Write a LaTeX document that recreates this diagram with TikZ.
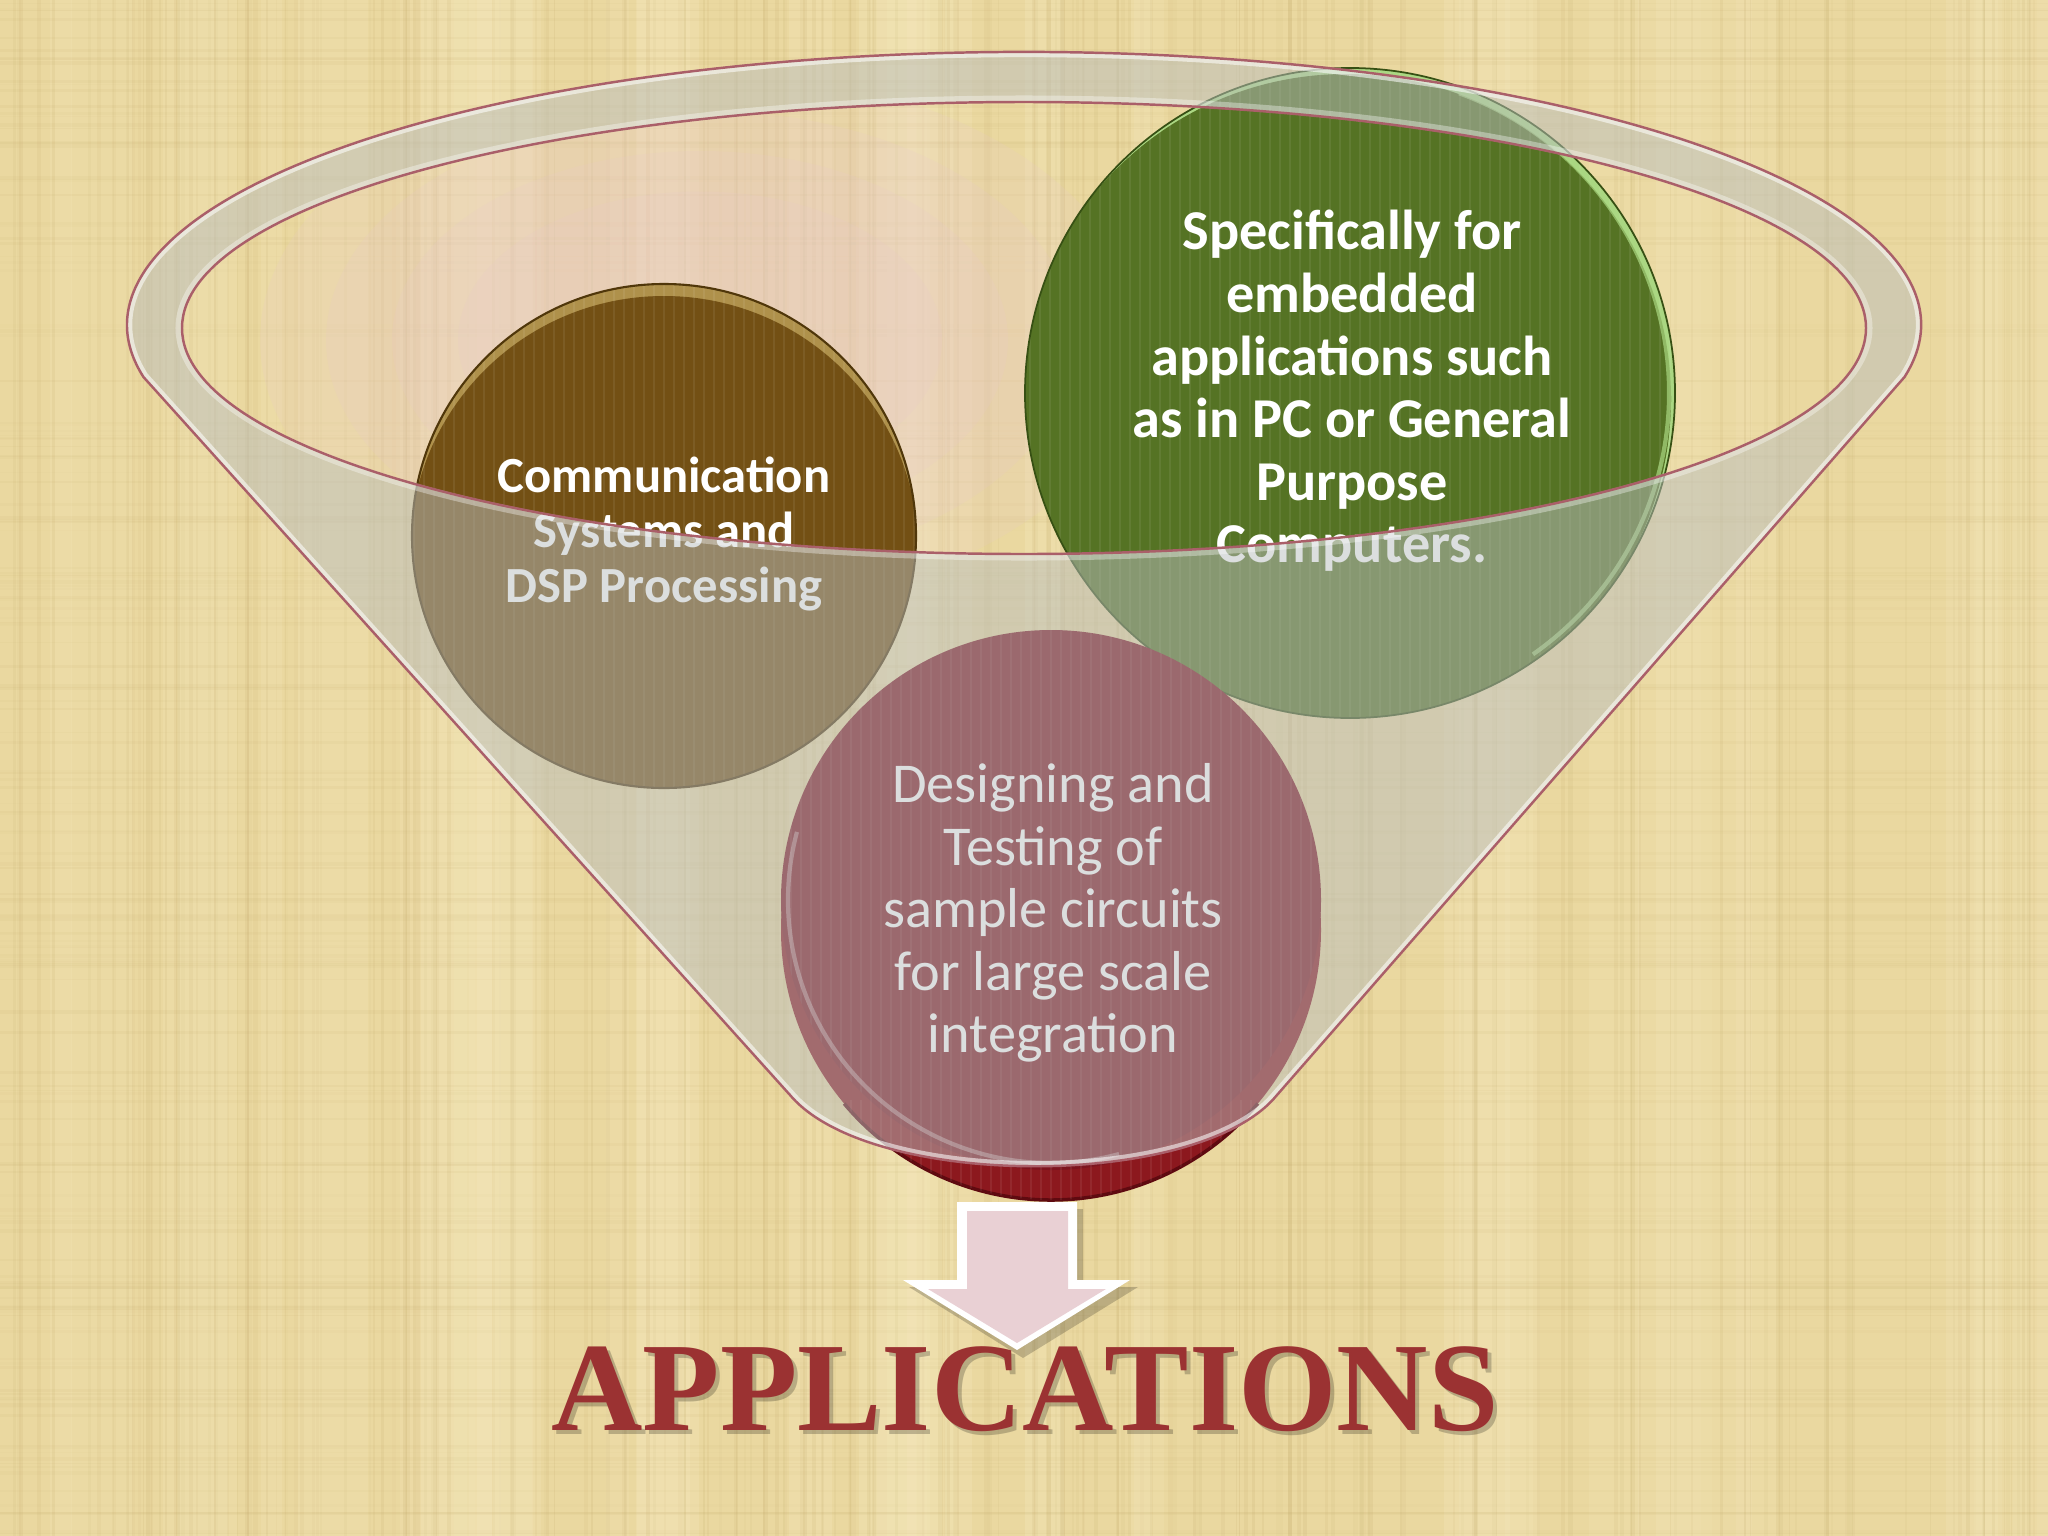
\documentclass[tikz,border=0pt]{standalone}
\usepackage{fontspec}
\newfontfamily\carl{Carlito}
\newfontfamily\tnr{Liberation Serif}
\usetikzlibrary{calc}
\definecolor{bg}{RGB}{234,216,160}
\definecolor{texdark}{RGB}{190,165,100}
\definecolor{texlight}{RGB}{248,236,196}
\definecolor{pinkb}{RGB}{232,200,205}
\definecolor{brbase}{RGB}{115,80,20}
\definecolor{brhi}{RGB}{175,145,75}
\definecolor{brdark}{RGB}{80,55,10}
\definecolor{grbase}{RGB}{85,115,36}
\definecolor{grhi}{RGB}{170,215,130}
\definecolor{grdark}{RGB}{55,80,20}
\definecolor{rdbase}{RGB}{125,20,30}
\definecolor{rdrim}{RGB}{140,24,30}
\definecolor{rddark}{RGB}{95,10,16}
\definecolor{ovl}{RGB}{185,190,190}
\definecolor{fline}{RGB}{170,95,105}
\definecolor{arrpink}{RGB}{233,208,212}
\definecolor{appred}{RGB}{155,50,50}
\tikzset{
  bodytext/.style={text=white, align=center, inner sep=0pt},
  stripe/.style={white, opacity=0.07, line width=0.8pt},
}
\begin{document}
\begin{tikzpicture}[x=0.01cm,y=-0.01cm]
\useasboundingbox (0,0) rectangle (2048,1536);
% background
\fill[bg] (0,0) rectangle (2048,1536);
\pgfmathsetseed{42}
\foreach \i in {1,...,40}{
  \pgfmathsetmacro\xx{rnd*2048}
  \pgfmathsetmacro\ww{20+rnd*60}
  \pgfmathsetmacro\op{0.10+0.15*rnd}
  \fill[texlight,opacity=\op] (\xx,0) rectangle ++(\ww,1536);
}
\foreach \i in {1,...,220}{
  \pgfmathsetmacro\xx{rnd*2048}
  \pgfmathsetmacro\op{0.04+0.11*rnd}
  \pgfmathsetmacro\lw{0.3+1.0*rnd}
  \draw[texdark,opacity=\op,line width=\lw pt] (\xx,0) -- (\xx,1536);
}
\foreach \i in {1,...,160}{
  \pgfmathsetmacro\yy{rnd*1536}
  \pgfmathsetmacro\op{0.02+0.07*rnd}
  \pgfmathsetmacro\lw{0.3+0.8*rnd}
  \draw[texdark,opacity=\op,line width=\lw pt] (0,\yy) -- (2048,\yy);
}
% pink glow inside the opening
\begin{scope}
  \clip (1024,328) ellipse[x radius=842, y radius=226];
  \foreach \k in {1.0,0.85,0.7,0.55}{
    \fill[pinkb,opacity=0.16] (700,340) ellipse[x radius={\k*440}, y radius={\k*270}];
  }
\end{scope}
% brown circle
\begin{scope}
  \clip (664,536) circle[radius=252];
  \fill[brhi] (664,536) circle[radius=252];
  \fill[brbase] (664,550) circle[radius=254];
  \foreach \s in {-25,...,25}{\draw[stripe] ({664+\s*10},280) -- ++(0,520);}
\end{scope}
\draw[brdark,line width=0.6pt] (664,536) circle[radius=252];
% green circle
\begin{scope}
  \clip (1350,393) circle[radius=325];
  \fill[grhi] (1350,393) circle[radius=325];
  \fill[grbase] (1346,399) circle[radius=325];
  \foreach \s in {-33,...,33}{\draw[stripe] ({1350+\s*10},60) -- ++(0,670);}
\end{scope}
\draw[grdark,line width=0.5pt] (1350,393) circle[radius=325];
\draw[grhi,line width=1.2pt,opacity=0.7] (1350,393) ++(-70:319) arc[start angle=-70,end angle=55,radius=319];
% red circle (rim + face)
\fill[rdrim] (1051,930) circle[radius=270];
\draw[rddark,line width=1pt] (1051,930) ++(40:270) arc[start angle=40,end angle=140,radius=270];
\begin{scope}
  \clip (1051,930) circle[radius=270];
  \foreach \s in {-26,...,26}{\draw[stripe] ({1051+\s*10},1100) -- ++(0,110);}
\end{scope}
\fill[rdbase] (1051,900) circle[radius=270];
\begin{scope}
  \clip (1051,900) circle[radius=270];
  \foreach \s in {-26,...,26}{\draw[stripe] ({1051+\s*10},625) -- ++(0,550);}
\end{scope}
\draw[white,opacity=0.35,line width=1.2pt] (1051,900) ++(75:263) arc[start angle=75,end angle=195,radius=263];
% texts
\node[bodytext,font=\carl\bfseries\fontsize{14.4}{15.7}\selectfont] (t1) at (664,534)
  {Communication\\Systems and\\DSP Processing};
\node[bodytext,font=\carl\bfseries\fontsize{16}{17.8}\selectfont] (t2) at (1352,391)
  {Specifically for\\embedded\\applications such\\as in PC or General\\Purpose\\Computers.};
\node[bodytext,font=\carl\fontsize{16}{17.8}\selectfont] (t3) at (1053,913)
  {Designing and\\Testing of\\sample circuits\\for large scale\\integration};
% funnel translucent body
\path[fill=ovl,fill opacity=0.5,even odd rule]
  (1904.5,377) arc[start angle=11,end angle=-191,x radius=897,y radius=273]
  -- (790,1095) .. controls (870,1190) and (1200,1190) .. (1277,1095) -- cycle
  (1024,328) ellipse[x radius=842,y radius=226];
\begin{scope}
  \clip (1904.5,377) arc[start angle=11,end angle=-191,x radius=897,y radius=273]
  -- (790,1095) .. controls (870,1190) and (1200,1190) .. (1277,1095) -- cycle;
  \draw[white,opacity=0.55,line width=3pt]
  (1904.5,377) arc[start angle=11,end angle=-191,x radius=897,y radius=273]
  -- (790,1095) .. controls (870,1190) and (1200,1190) .. (1277,1095) -- cycle;
\end{scope}
\draw[white,opacity=0.35,line width=2pt] (1024,328) ellipse[x radius=845,y radius=229];
\draw[fline,line width=0.7pt]
  (1904.5,377) arc[start angle=11,end angle=-191,x radius=897,y radius=273]
  -- (790,1095) .. controls (870,1190) and (1200,1190) .. (1277,1095) -- cycle;
\draw[fline,line width=0.7pt] (1024,328) ellipse[x radius=842,y radius=226];
% arrow
\fill[black,opacity=0.2] (963,1209) -- (1083,1209) -- (1083,1287) -- (1138,1287) -- (1023,1358) -- (909,1287) -- (963,1287) -- cycle;
\fill[white] (957,1202) -- (1077,1202) -- (1077,1280) -- (1130,1280) -- (1017,1350) -- (903,1280) -- (957,1280) -- cycle;
\fill[arrpink] (967,1211) -- (1068,1211) -- (1068,1289) -- (1106,1289) -- (1017,1343) -- (928,1289) -- (967,1289) -- cycle;
% title
\node[font=\tnr\bfseries\fontsize{36}{40}\selectfont,text=black,opacity=0.22,anchor=base,inner sep=0pt] (appsh) at (1029,1434) {APPLICATIONS};
\node[font=\tnr\bfseries\fontsize{36}{40}\selectfont,text=appred,anchor=base,inner sep=0pt] (app) at (1025,1430) {APPLICATIONS};
\end{tikzpicture}
\end{document}
